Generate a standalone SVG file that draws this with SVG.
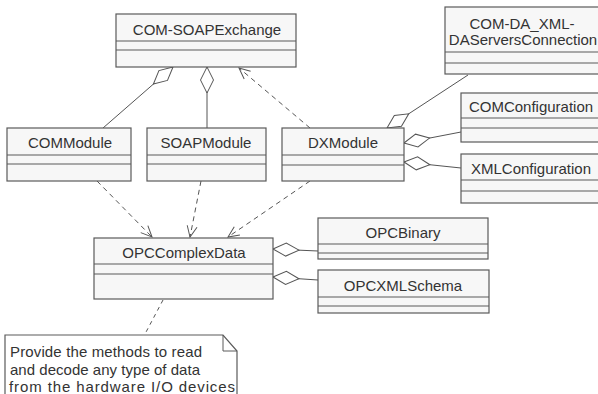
<svg xmlns="http://www.w3.org/2000/svg" width="598" height="394" viewBox="0 0 598 394">
  <style>
    .box { fill: #f7f7f7; stroke: #5a5a5a; stroke-width: 1.2; }
    .div { stroke: #5a5a5a; stroke-width: 1.2; }
    .lbl { font-family: "Liberation Sans", Arial, sans-serif; font-size: 15px; fill: #333; text-anchor: middle; }
    .note { font-family: "Liberation Sans", Arial, sans-serif; font-size: 15px; fill: #333; }
    .assoc { fill: none; stroke: #555; stroke-width: 1; marker-start: url(#diamond); }
    .dep { fill: none; stroke: #555; stroke-width: 1; stroke-dasharray: 5 4; marker-end: url(#open); }
    .link { fill: none; stroke: #555; stroke-width: 1; stroke-dasharray: 4 4; }
  </style>
  <defs>
    <marker id="diamond" markerUnits="userSpaceOnUse" markerWidth="30" markerHeight="16" refX="0" refY="0" orient="auto" viewBox="-2 -8 30 16" overflow="visible">
      <path d="M0,0 L13,-6.5 L26,0 L13,6.5 Z" fill="#fff" stroke="#555" stroke-width="1"/>
    </marker>
    <marker id="open" markerUnits="userSpaceOnUse" markerWidth="14" markerHeight="14" refX="0" refY="0" orient="auto" viewBox="-12 -7 14 14" overflow="visible">
      <path d="M-11,-5 L0,0 L-11,5" fill="none" stroke="#555" stroke-width="1"/>
    </marker>
  </defs>
  <rect width="598" height="394" fill="#fff"/>

  <g id="connectors">
    <!-- aggregations (diamond at the whole end) -->
    <path class="assoc" d="M173,67 L103,128"/>
    <path class="assoc" d="M207,67 L207,128"/>
    <path class="assoc" d="M387,128 L468,75"/>
    <path class="assoc" d="M404,143 L461,132"/>
    <path class="assoc" d="M404,162 L461,168"/>
    <path class="assoc" d="M273,249 L318,251"/>
    <path class="assoc" d="M273,277 L318,280"/>
    <!-- dependencies -->
    <path class="dep" d="M310,128 L239,68"/>
    <path class="dep" d="M97,181 L152,237"/>
    <path class="dep" d="M201,181 L190,237"/>
    <path class="dep" d="M310,181 L228,237"/>
    <!-- note anchor -->
    <path class="link" d="M163,300 L145,334"/>
  </g>

  <g id="com-soap-exchange">
    <rect class="box" x="116" y="14" width="180" height="53"/>
    <line class="div" x1="116" y1="41" x2="296" y2="41"/>
    <line class="div" x1="116" y1="50" x2="296" y2="50"/>
    <text class="lbl" x="207" y="35">COM-SOAPExchange</text>
  </g>

  <g id="com-da-xml-da-servers-connection">
    <rect class="box" x="445" y="7" width="160" height="67"/>
    <line class="div" x1="445" y1="52" x2="605" y2="52"/>
    <line class="div" x1="445" y1="63" x2="605" y2="63"/>
    <text class="lbl" x="522" y="29">COM-DA_XML-</text>
    <text class="lbl" x="523" y="45">DAServersConnection</text>
  </g>

  <g id="com-module">
    <rect class="box" x="7" y="128" width="124" height="53"/>
    <line class="div" x1="7" y1="155" x2="131" y2="155"/>
    <line class="div" x1="7" y1="164" x2="131" y2="164"/>
    <text class="lbl" x="70" y="148">COMModule</text>
  </g>

  <g id="soap-module">
    <rect class="box" x="147" y="128" width="119" height="53"/>
    <line class="div" x1="147" y1="155" x2="266" y2="155"/>
    <line class="div" x1="147" y1="164" x2="266" y2="164"/>
    <text class="lbl" x="206" y="148">SOAPModule</text>
  </g>

  <g id="dx-module">
    <rect class="box" x="282" y="128" width="122" height="53"/>
    <line class="div" x1="282" y1="155" x2="404" y2="155"/>
    <line class="div" x1="282" y1="165" x2="404" y2="165"/>
    <text class="lbl" x="343" y="148">DXModule</text>
  </g>

  <g id="com-configuration">
    <rect class="box" x="461" y="93" width="150" height="49"/>
    <line class="div" x1="461" y1="118" x2="611" y2="118"/>
    <line class="div" x1="461" y1="128" x2="611" y2="128"/>
    <text class="lbl" x="531" y="112">COMConfiguration</text>
  </g>

  <g id="xml-configuration">
    <rect class="box" x="461" y="154" width="150" height="49"/>
    <line class="div" x1="461" y1="180" x2="611" y2="180"/>
    <line class="div" x1="461" y1="191" x2="611" y2="191"/>
    <text class="lbl" x="531" y="174">XMLConfiguration</text>
  </g>

  <g id="opc-complex-data">
    <rect class="box" x="94" y="238" width="179" height="61"/>
    <line class="div" x1="94" y1="264" x2="273" y2="264"/>
    <line class="div" x1="94" y1="274" x2="273" y2="274"/>
    <text class="lbl" x="184" y="258">OPCComplexData</text>
  </g>

  <g id="opc-binary">
    <rect class="box" x="318" y="218" width="170" height="41"/>
    <line class="div" x1="318" y1="244" x2="488" y2="244"/>
    <line class="div" x1="318" y1="253" x2="488" y2="253"/>
    <text class="lbl" x="403" y="238">OPCBinary</text>
  </g>

  <g id="opc-xml-schema">
    <rect class="box" x="318" y="270" width="171" height="43"/>
    <line class="div" x1="318" y1="297" x2="489" y2="297"/>
    <line class="div" x1="318" y1="306" x2="489" y2="306"/>
    <text class="lbl" x="403" y="291">OPCXMLSchema</text>
  </g>

  <g id="note">
    <path d="M5,400 L5,335 L223,335 L237,351 L237,400" fill="#fff" stroke="#5a5a5a" stroke-width="1.2"/>
    <path d="M223,335 L223,351 L237,351" fill="none" stroke="#5a5a5a" stroke-width="1"/>
    <text class="note" x="10" y="357" textLength="192" lengthAdjust="spacing">Provide the methods to read</text>
    <text class="note" x="10" y="374.5" textLength="190" lengthAdjust="spacing">and decode any type of data</text>
    <text class="note" x="9" y="392" textLength="226" lengthAdjust="spacing">from the hardware I/O devices</text>
  </g>
</svg>
